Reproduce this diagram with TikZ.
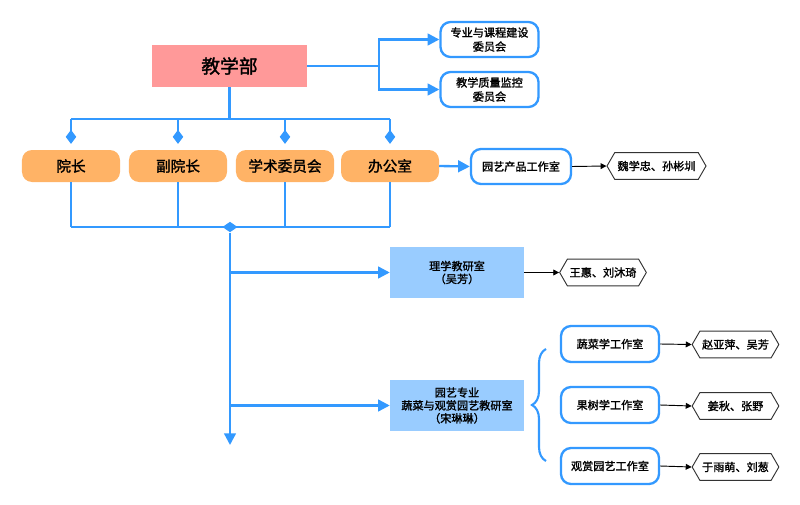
\documentclass[tikz,border=0pt]{standalone}
\usepackage{fontspec}
\newfontfamily\cjk[FakeBold=1.5]{Noto Sans CJK SC}
\usetikzlibrary{arrows.meta,shapes.symbols,shapes.geometric,decorations.pathreplacing}
\definecolor{lineblue}{HTML}{3399FF}
\definecolor{headpink}{HTML}{FF9999}
\definecolor{roleorange}{HTML}{FFB366}
\definecolor{roomblue}{HTML}{99CCFF}
\tikzset{
  link/.style={draw=lineblue, line width=2pt},
  linkto/.style={link, -{Triangle[length=10pt,width=10pt]}},
  diamto/.style={link, -{Diamond[length=12pt,width=9pt]}, shorten >=5pt},
  head/.style={fill=headpink, minimum width=4.65cm, minimum height=1.26cm, font=\cjk\fontsize{16}{18}\selectfont},
  roles/.style={fill=roleorange, rounded corners=0.3cm, minimum width=2.94cm, minimum height=0.96cm, font=\cjk\fontsize{12.5}{14}\selectfont},
  studio/.style={draw=lineblue, line width=2pt, fill=white, rounded corners=0.3cm, minimum width=2.94cm, minimum height=1.05cm, align=center, font=\cjk\fontsize{9.5}{12}\selectfont},
  section/.style={fill=roomblue, minimum width=4.02cm, minimum height=1.53cm, align=center, font=\cjk\fontsize{9.5}{11}\selectfont},
  people/.style={draw=black!80, line width=0.8pt, fill=white, signal, signal to=west and east, signal pointer angle=120, minimum width=2.6cm, minimum height=0.8cm, inner sep=1pt, font=\cjk\fontsize{9.5}{10}\selectfont},
  thinto/.style={draw=black, line width=0.8pt, -{Triangle[length=5pt,width=5pt]}}
}
\begin{document}
\begin{tikzpicture}[x=0.03cm, y=-0.03cm]
\useasboundingbox (0,0) rectangle (800,505);
% top
\node[head] (jxb) at (229.5,66) {教学部};
\node[studio] (wy1) at (489.5,39.5) {专业与课程建设\\委员会};
\node[studio] (wy2) at (489.5,89.5) {教学质量监控\\委员会};
\coordinate (fork) at (379,66);
\draw[link] (jxb.east) -- (fork);
\draw[linkto] (fork) |- (wy1.west);
\draw[linkto] (fork) |- (wy2.west);
% roles
\node[roles] (yz) at (71,166) {院长};
\node[roles] (fyz) at (178,166) {副院长};
\node[roles] (xs) at (285,166) {学术委员会};
\node[roles] (bgs) at (390,166) {办公室};
\coordinate (bus) at (229.5,119);
\draw[link] (jxb.south) -- (bus);
\draw[link] (yz |- bus) -- (bgs |- bus);
\foreach \r in {yz,fyz,xs,bgs}
  \draw[diamto] (\r |- bus) -- (\r.north);
\coordinate (low) at (230,227);
\foreach \r in {yz,fyz,xs,bgs}
  \draw[link] (\r.south) -- (\r |- low);
\draw[link] (yz |- low) -- (bgs |- low);
\node[fill=lineblue, diamond, inner sep=0pt, minimum width=13pt, minimum height=9pt] (hub) at (low) {};
\coordinate (tail) at (230,445);
\draw[linkto] (hub) -- (tail);
% office
\node[studio, minimum width=3cm] (cp) at (521,166.5) {园艺产品工作室};
\node[people, minimum width=2.97cm] (p0) at (656.5,166) {魏学忠、孙彬圳};
\draw[linkto] (bgs.east) -- (cp.west);
\draw[thinto] (cp.east) -- (p0.west);
% sections
\node[section] (lx) at (457,272.5) {理学教研室\\（吴芳）};
\node[section] (yy) at (457,405.5) {园艺专业\\蔬菜与观赏园艺教研室\\（宋琳琳）};
\draw[linkto] (hub |- lx.west) -- (lx.west);
\draw[linkto] (hub |- yy.west) -- (yy.west);
\node[people] (p1) at (603,272.5) {王惠、刘沐琦};
\draw[thinto] (lx.east) -- (p1.west);
% studios
\node[studio, minimum height=1.08cm] (s1) at (610,344) {蔬菜学工作室};
\node[studio, minimum height=1.08cm] (s2) at (610,405) {果树学工作室};
\node[studio, minimum height=1.08cm] (s3) at (610,466) {观赏园艺工作室};
\node[people] (p2) at (735.5,344.5) {赵亚萍、吴芳};
\node[people] (p3) at (735.5,406) {姜秋、张野};
\node[people] (p4) at (735.5,467) {于雨萌、刘葱};
\draw[link, line width=1.8pt, decorate, decoration={brace, amplitude=0.42cm}] (546,461) -- (546,349);
\draw[thinto] (s1.east) -- (p2.west);
\draw[thinto] (s2.east) -- (p3.west);
\draw[thinto] (s3.east) -- (p4.west);
\end{tikzpicture}
\end{document}
